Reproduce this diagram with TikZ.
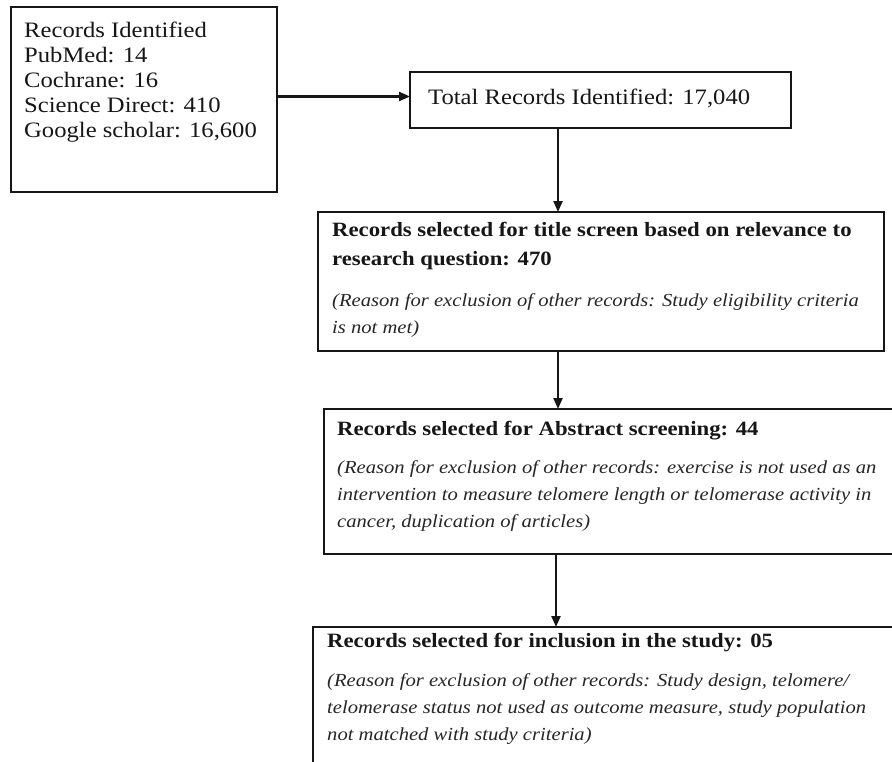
\documentclass[tikz,border=0pt]{standalone}
\usepackage{fontspec}
\setmainfont{Liberation Serif}[FakeStretch=1.12]
\usetikzlibrary{arrows.meta}
\definecolor{ink}{HTML}{161616}
\definecolor{soft}{HTML}{262626}
\begin{document}
\begin{tikzpicture}[x=1pt,y=-1pt,
  box/.style={draw=ink, line width=2.4pt, anchor=north west, inner sep=0pt, outer sep=0pt},
  arr/.style={draw=ink, line width=2.2pt, -{Triangle[length=11pt,width=9pt]}},
  reg/.style={anchor=north west, inner sep=0pt, align=left, text=ink, font=\fontsize{22}{25}\selectfont},
  hd/.style={anchor=north west, inner sep=0pt, align=left, text=ink, font=\fontsize{20.3}{29}\selectfont\bfseries},
  why/.style={anchor=north west, inner sep=0pt, align=left, text=soft, font=\fontsize{18.4}{27}\selectfont\itshape}]
\clip (0,0) rectangle (892,761);
\fill[white] (0,0) rectangle (892,761);
% boxes
\node[box, minimum width=266pt, minimum height=185pt] (b1) at (11,7) {};
\node[box, minimum width=381pt, minimum height=56pt] (b2) at (410,72) {};
\node[box, minimum width=566pt, minimum height=139pt] (b3) at (318,212) {};
\node[box, minimum width=590pt, minimum height=145pt] (b4) at (324,409) {};
\node[box, minimum width=600pt, minimum height=160pt] (b5) at (313,627) {};
% texts
\node[reg] (t1) at (24,22) {Records Identified\\PubMed: 14\\Cochrane: 16\\Science Direct: 410\\Google scholar: 16,600};
\node[reg] (t2) at (428,89) {Total Records Identified: 17,040};
\node[hd] (h3) at (332,222) {Records selected for title screen based on relevance to\\research question: 470};
\node[why] (r3) at (332,293) {(Reason for exclusion of other records: Study eligibility criteria\\is not met)};
\node[hd] (h4) at (337,421) {Records selected for Abstract screening: 44};
\node[why] (r4) at (337,460) {(Reason for exclusion of other records: exercise is not used as an\\intervention to measure telomere length or telomerase activity in\\cancer, duplication of articles)};
\node[hd] (h5) at (327,633) {Records selected for inclusion in the study: 05};
\node[why] (r5) at (327,673) {(Reason for exclusion of other records: Study design, telomere/\\telomerase status not used as outcome measure, study population\\not matched with study criteria)};
% connectors
\draw[arr] ([yshift=3pt]b1.east) -- ([yshift=3pt]b1.east -| b2.west);
\draw[arr] (b2.south -| 558,0) -- (b3.north -| 558,0);
\draw[arr] (b3.south -| 558,0) -- (b4.north -| 558,0);
\draw[arr] (b4.south -| 556,0) -- (b5.north -| 556,0);
\end{tikzpicture}
\end{document}
